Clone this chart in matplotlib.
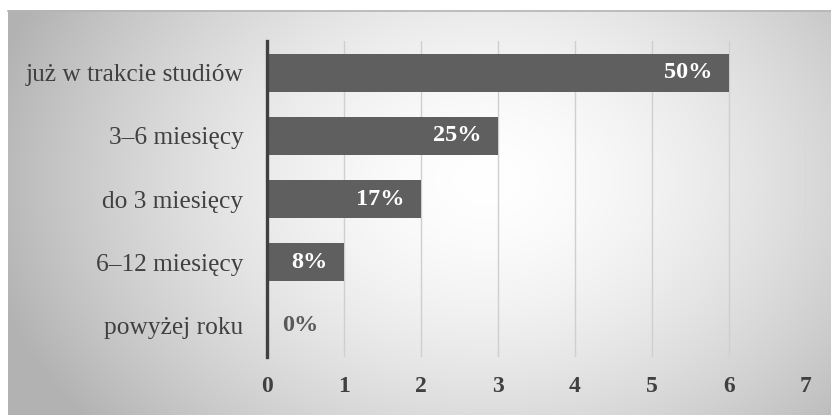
import numpy as np
import matplotlib
matplotlib.use("Agg")
import matplotlib.pyplot as plt

categories = ["już w trakcie studiów", "3–6 miesięcy", "do 3 miesięcy", "6–12 miesięcy", "powyżej roku"]
values = [6, 3, 2, 1, 0]
pct_labels = ["50%", "25%", "17%", "8%", "0%"]
x_ticks = [0, 1, 2, 3, 4, 5, 6, 7]

W, H = 831, 415
fig = plt.figure(figsize=(W / 100, H / 100), dpi=100)
fig.patch.set_facecolor("white")

# background panel with radial gradient
bg = fig.add_axes([8 / W, 0, 1 - 8 / W, 1 - 10 / H])
bg.set_axis_off()
ny, nx = 200, 400
yy, xx = np.mgrid[0:ny, 0:nx]
cx, cy = nx * 0.58, ny * 0.42
r = np.sqrt(((xx - cx) / (nx * 0.62)) ** 2 + ((yy - cy) / (ny * 0.95)) ** 2)
v = 1.0 - 0.30 * np.clip(r, 0, 1.3) ** 1.6
v = np.clip(v, 0.70, 1.0)
img = np.dstack([v, v, v])
bg.imshow(img, aspect="auto", extent=[0, 1, 0, 1], origin="upper")
bg.set_xlim(0, 1)
bg.set_ylim(0, 1)
bg.plot([0, 1], [0.997, 0.997], color="#b5b5b5", lw=1.2, transform=bg.transAxes, clip_on=False)

ax = fig.add_axes([267 / W, 1 - 357 / H, (806 - 267) / W, (357 - 41) / H])
ax.patch.set_alpha(0)

serif = ["Liberation Serif", "DejaVu Serif"]
ypos = np.arange(len(categories))
ax.barh(ypos, values, height=0.6, color="#5f5f5f", zorder=3)
ax.set_xlim(0, 7)
ax.set_ylim(len(categories) - 0.5, -0.5)
ax.set_xticks(x_ticks)
ax.set_xticklabels([str(t) for t in x_ticks], family=serif, fontsize=17, fontweight="bold", color="#404040")
ax.set_yticks(ypos)
ax.set_yticklabels(categories, family=serif, fontsize=18.3, color="#404040")
ax.tick_params(axis="both", length=0)
ax.tick_params(axis="x", pad=14)
ax.tick_params(axis="y", pad=17)
ax.grid(axis="x", color="#cfcfcf", lw=1.0, zorder=1)
for s in ["top", "right", "bottom"]:
    ax.spines[s].set_visible(False)
ax.spines["left"].set_color("#404040")
ax.spines["left"].set_linewidth(2.4)
ax.spines["left"].set_zorder(4)

for i, (val, lab) in enumerate(zip(values, pct_labels)):
    if val > 0:
        ax.annotate(lab, xy=(val, i), xytext=(-12, 0), textcoords="offset points",
                    ha="right", va="center", family=serif, fontsize=17.5, fontweight="bold",
                    color="white", zorder=5)
    else:
        ax.annotate(lab, xy=(val, i), xytext=(11, 0), textcoords="offset points",
                    ha="left", va="center", family=serif, fontsize=17.5, fontweight="bold",
                    color="#595959", zorder=5)

fig.savefig("out.png", dpi=100)
